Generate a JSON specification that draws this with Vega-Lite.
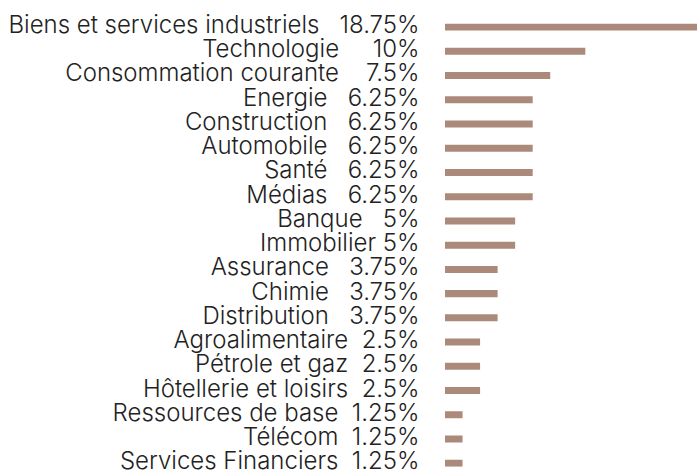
{
  "$schema": "https://vega.github.io/schema/vega-lite/v6.json",
  "autosize": "none",
  "width": 252,
  "height": 443.3,
  "padding": {"left": 445, "top": 23.5, "right": 0, "bottom": 3},
  "background": "white",
  "config": {"view": {"stroke": null}},
  "data": {
    "values": [
      {"secteur": "Biens et services industriels", "poids": 18.75, "libelle": "Biens et services industriels\u00a0\u00a0\u00a018.75%"},
      {"secteur": "Technologie", "poids": 10, "libelle": "Technologie\u00a0\u00a0\u00a0\u00a0\u00a010%"},
      {"secteur": "Consommation courante", "poids": 7.5, "libelle": "Consommation courante\u00a0\u00a0\u00a0\u00a07.5%"},
      {"secteur": "Energie", "poids": 6.25, "libelle": "Energie\u00a0\u00a0\u00a06.25%"},
      {"secteur": "Construction", "poids": 6.25, "libelle": "Construction\u00a0\u00a0\u00a06.25%"},
      {"secteur": "Automobile", "poids": 6.25, "libelle": "Automobile\u00a0\u00a0\u00a06.25%"},
      {"secteur": "Santé", "poids": 6.25, "libelle": "Santé\u00a0\u00a0\u00a06.25%"},
      {"secteur": "Médias", "poids": 6.25, "libelle": "Médias\u00a0\u00a0\u00a06.25%"},
      {"secteur": "Banque", "poids": 5, "libelle": "Banque\u00a0\u00a0\u00a05%"},
      {"secteur": "Immobilier", "poids": 5, "libelle": "Immobilier\u00a05%"},
      {"secteur": "Assurance", "poids": 3.75, "libelle": "Assurance\u00a0\u00a0\u00a03.75%"},
      {"secteur": "Chimie", "poids": 3.75, "libelle": "Chimie\u00a0\u00a0\u00a03.75%"},
      {"secteur": "Distribution", "poids": 3.75, "libelle": "Distribution\u00a0\u00a0\u00a03.75%"},
      {"secteur": "Agroalimentaire", "poids": 2.5, "libelle": "Agroalimentaire\u00a0\u00a02.5%"},
      {"secteur": "Pétrole et gaz", "poids": 2.5, "libelle": "Pétrole et gaz\u00a0\u00a02.5%"},
      {"secteur": "Hôtellerie et loisirs", "poids": 2.5, "libelle": "Hôtellerie et loisirs\u00a0\u00a02.5%"},
      {"secteur": "Ressources de base", "poids": 1.25, "libelle": "Ressources de base\u00a0\u00a01.25%"},
      {"secteur": "Télécom", "poids": 1.25, "libelle": "Télécom\u00a0\u00a01.25%"},
      {"secteur": "Services Financiers", "poids": 1.25, "libelle": "Services Financiers\u00a0\u00a01.25%"}
    ]
  },
  "mark": {"type": "bar", "color": "#ab8a7b", "clip": true},
  "encoding": {
    "y": {
      "field": "libelle",
      "type": "nominal",
      "sort": null,
      "scale": {"paddingInner": 0.711, "paddingOuter": 0},
      "axis": {
        "title": null,
        "domain": false,
        "ticks": false,
        "labelPadding": 26,
        "labelOffset": -1,
        "labelFont": "Inter",
        "labelFontWeight": 300,
        "labelFontSize": 24,
        "labelColor": "#222222",
        "labelLimit": 0
      }
    },
    "x": {
      "field": "poids",
      "type": "quantitative",
      "scale": {"domain": [0, 17.96]},
      "axis": null
    }
  }
}
